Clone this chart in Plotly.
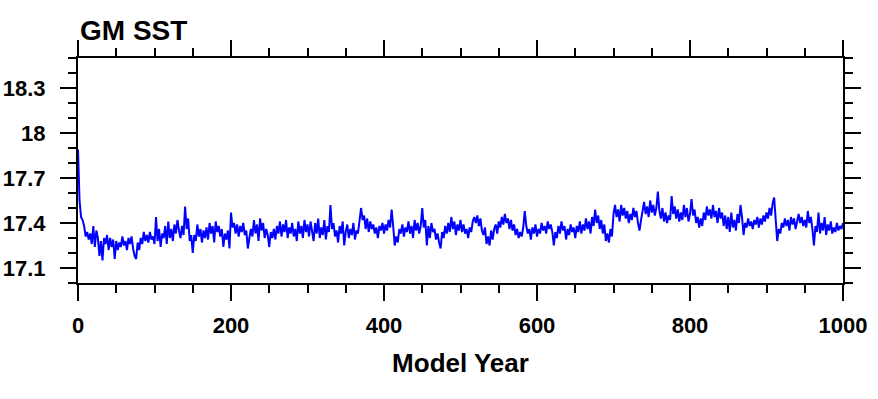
import plotly.graph_objects as go

# Global-mean SST (deg C), every 2 model years from 0 to 1000
sst_0_48 = [17.89, 17.55, 17.44, 17.42, 17.38, 17.31, 17.34, 17.29, 17.33, 17.26,
            17.38, 17.24, 17.35, 17.30, 17.18, 17.28, 17.15, 17.30, 17.26, 17.32,
            17.22, 17.30, 17.24, 17.29, 17.16]
sst_50_98 = [17.28, 17.22, 17.27, 17.24, 17.31, 17.25, 17.28, 17.22, 17.30, 17.26,
             17.31, 17.23, 17.18, 17.16, 17.27, 17.22, 17.30, 17.26, 17.34, 17.28,
             17.32, 17.27, 17.34, 17.29, 17.31]
sst_100_148 = [17.26, 17.44, 17.28, 17.36, 17.24, 17.33, 17.30, 17.38, 17.26, 17.41,
               17.30, 17.36, 17.28, 17.39, 17.33, 17.42, 17.35, 17.30, 17.38, 17.32,
               17.51, 17.36, 17.43, 17.28, 17.32]
sst_150_198 = [17.20, 17.32, 17.28, 17.39, 17.31, 17.36, 17.27, 17.35, 17.30, 17.37,
               17.29, 17.40, 17.33, 17.38, 17.27, 17.41, 17.34, 17.38, 17.31, 17.36,
               17.24, 17.33, 17.29, 17.35, 17.23]
sst_200_248 = [17.47, 17.37, 17.40, 17.33, 17.39, 17.31, 17.38, 17.34, 17.40, 17.32,
               17.35, 17.23, 17.30, 17.36, 17.31, 17.42, 17.33, 17.39, 17.28, 17.43,
               17.35, 17.40, 17.30, 17.36, 17.32]
sst_250_298 = [17.24, 17.34, 17.30, 17.36, 17.29, 17.38, 17.33, 17.41, 17.31, 17.39,
               17.34, 17.42, 17.30, 17.37, 17.33, 17.40, 17.31, 17.36, 17.28, 17.41,
               17.33, 17.38, 17.30, 17.42, 17.34]
sst_300_348 = [17.39, 17.31, 17.41, 17.35, 17.28, 17.40, 17.33, 17.43, 17.30, 17.37,
               17.32, 17.42, 17.29, 17.38, 17.34, 17.52, 17.36, 17.40, 17.31, 17.35,
               17.27, 17.38, 17.33, 17.41, 17.25]
sst_350_398 = [17.34, 17.39, 17.30, 17.36, 17.32, 17.40, 17.29, 17.35, 17.33, 17.44,
               17.50, 17.42, 17.45, 17.36, 17.43, 17.34, 17.41, 17.36, 17.39, 17.33,
               17.37, 17.30, 17.38, 17.35, 17.40]
sst_400_448 = [17.33, 17.39, 17.35, 17.42, 17.37, 17.49, 17.38, 17.25, 17.31, 17.27,
               17.36, 17.33, 17.39, 17.31, 17.37, 17.34, 17.41, 17.33, 17.38, 17.30,
               17.42, 17.35, 17.40, 17.33, 17.38]
sst_450_498 = [17.50, 17.37, 17.42, 17.25, 17.38, 17.30, 17.40, 17.34, 17.36, 17.29,
               17.33, 17.27, 17.23, 17.34, 17.30, 17.38, 17.33, 17.40, 17.34, 17.44,
               17.36, 17.41, 17.32, 17.39, 17.35]
sst_500_548 = [17.42, 17.34, 17.39, 17.33, 17.36, 17.30, 17.37, 17.34, 17.41, 17.44,
               17.40, 17.45, 17.38, 17.43, 17.35, 17.32, 17.37, 17.26, 17.31, 17.25,
               17.35, 17.29, 17.36, 17.39, 17.33]
sst_550_598 = [17.41, 17.37, 17.44, 17.39, 17.46, 17.40, 17.43, 17.36, 17.42, 17.35,
               17.39, 17.32, 17.36, 17.30, 17.34, 17.31, 17.37, 17.48, 17.38, 17.33,
               17.36, 17.29, 17.37, 17.33, 17.39]
sst_600_648 = [17.31, 17.36, 17.33, 17.40, 17.35, 17.38, 17.33, 17.41, 17.36, 17.39,
               17.34, 17.25, 17.34, 17.30, 17.38, 17.33, 17.41, 17.35, 17.38, 17.29,
               17.36, 17.32, 17.39, 17.34, 17.37]
sst_650_698 = [17.30, 17.38, 17.34, 17.41, 17.33, 17.39, 17.35, 17.43, 17.36, 17.41,
               17.33, 17.44, 17.38, 17.49, 17.40, 17.45, 17.36, 17.42, 17.33, 17.39,
               17.28, 17.33, 17.27, 17.36, 17.31]
sst_700_748 = [17.46, 17.52, 17.44, 17.49, 17.41, 17.52, 17.45, 17.50, 17.43, 17.48,
               17.40, 17.46, 17.42, 17.50, 17.44, 17.48, 17.40, 17.35, 17.42, 17.47,
               17.54, 17.46, 17.51, 17.44, 17.55]
sst_750_798 = [17.47, 17.52, 17.45, 17.50, 17.61, 17.48, 17.43, 17.50, 17.41, 17.47,
               17.40, 17.45, 17.42, 17.58, 17.46, 17.51, 17.43, 17.49, 17.41, 17.47,
               17.42, 17.52, 17.44, 17.50, 17.41]
sst_800_848 = [17.46, 17.56, 17.45, 17.49, 17.40, 17.44, 17.37, 17.43, 17.38, 17.47,
               17.42, 17.51, 17.45, 17.49, 17.43, 17.52, 17.44, 17.48, 17.40, 17.50,
               17.43, 17.47, 17.38, 17.45, 17.36]
sst_850_898 = [17.44, 17.34, 17.47, 17.37, 17.42, 17.35, 17.46, 17.40, 17.52, 17.44,
               17.32, 17.40, 17.37, 17.43, 17.38, 17.41, 17.36, 17.42, 17.39, 17.44,
               17.37, 17.43, 17.39, 17.45, 17.41]
sst_900_948 = [17.47, 17.43, 17.50, 17.45, 17.53, 17.57, 17.44, 17.28, 17.36, 17.33,
               17.40, 17.37, 17.43, 17.38, 17.42, 17.35, 17.44, 17.39, 17.43, 17.36,
               17.41, 17.46, 17.40, 17.44, 17.38]
sst_950_1000 = [17.42, 17.37, 17.48, 17.40, 17.44, 17.36, 17.25, 17.38, 17.34, 17.47,
                17.33, 17.40, 17.35, 17.44, 17.32, 17.39, 17.35, 17.41, 17.33, 17.37,
                17.34, 17.40, 17.35, 17.38, 17.36, 17.40]

sst = (sst_0_48 + sst_50_98 + sst_100_148 + sst_150_198 + sst_200_248 + sst_250_298
       + sst_300_348 + sst_350_398 + sst_400_448 + sst_450_498 + sst_500_548
       + sst_550_598 + sst_600_648 + sst_650_698 + sst_700_748 + sst_750_798
       + sst_800_848 + sst_850_898 + sst_900_948 + sst_950_1000)
years = [2 * i for i in range(len(sst))]

y_tick_vals = [17.1, 17.4, 17.7, 18.0, 18.3]
y_tick_text = ["17.1", "17.4", "17.7", "18", "18.3"]
x_tick_vals = [0, 200, 400, 600, 800, 1000]
x_tick_text = ["0", "200", "400", "600", "800", "1000"]

FONT = "Liberation Sans, Arial, Helvetica, sans-serif"

fig = go.Figure()
fig.add_trace(go.Scatter(x=years, y=sst, mode="lines",
                         line=dict(color="#0000ff", width=2),
                         showlegend=False, hoverinfo="skip"))

axis_common = dict(showline=True, linecolor="black", linewidth=2, mirror="ticks",
                   ticks="outside", ticklen=16, tickwidth=2, tickcolor="black",
                   showgrid=False, zeroline=False, automargin=False,
                   tickfont=dict(family=FONT, size=22, color="black", weight="bold"))

fig.update_xaxes(range=[0, 1000], tickmode="array", tickvals=x_tick_vals,
                 ticktext=x_tick_text, ticklabelstandoff=6,
                 minor=dict(tickmode="linear", tick0=0, dtick=50, ticks="outside",
                            ticklen=8, tickwidth=2, tickcolor="black", showgrid=False),
                 title=dict(text="Model Year",
                            font=dict(family=FONT, size=26, color="black", weight="bold"),
                            standoff=16),
                 **axis_common)
fig.update_yaxes(range=[17.0, 18.5], tickmode="array", tickvals=y_tick_vals,
                 ticktext=y_tick_text, ticklabelstandoff=10,
                 minor=dict(tickmode="linear", tick0=17.0, dtick=0.1, ticks="outside",
                            ticklen=8, tickwidth=2, tickcolor="black", showgrid=False),
                 **axis_common)

fig.add_annotation(text="GM SST", x=0, xref="paper", xanchor="left",
                   y=1, yref="paper", yanchor="bottom", yshift=10, showarrow=False,
                   font=dict(family=FONT, size=28, color="black", weight="bold"))

fig.update_layout(width=878, height=399, margin=dict(l=78, r=35, t=58, b=116),
                  plot_bgcolor="white", paper_bgcolor="white",
                  font=dict(family=FONT, color="black"))

# remove the default page margin so the figure sits at the window's corner
fig.write_html("out.html", config={"displayModeBar": False},
               post_script="document.body.style.margin='0';document.body.style.overflow='hidden';")
